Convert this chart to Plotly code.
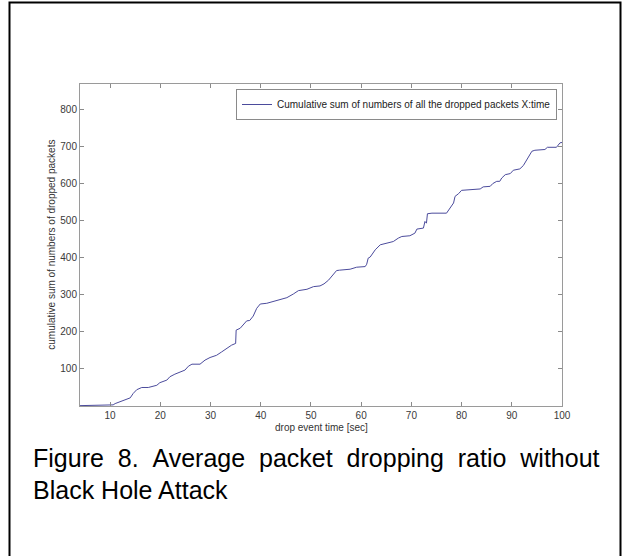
import plotly.graph_objects as go

# Data
time_sec = [4, 8, 10.6, 11, 12.6, 14, 14.6, 15.3, 16.3, 17.6, 19.3, 19.9, 21.3, 21.9, 22.9, 24.3,
            24.9, 25.6, 26.3, 27.9, 28.9, 29.9, 31.2, 32.2, 33.2, 34.2, 35.0, 35.1, 35.9, 36.5,
            37.2, 37.8, 38.5, 39.2, 39.9, 41.2, 42.5, 43.8, 45.2, 46.5, 47.5, 49.2, 50.5, 51.8,
            52.6, 53.5, 54.1, 55.1, 55.7, 57.8, 59.1, 60.8, 61.1, 61.4, 61.8, 62.8, 63.8, 65.1,
            66.4, 67.4, 68.1, 69.7, 70.7, 71.1, 72.4, 72.7, 73.0, 73.2, 74.1, 77.0, 77.7, 78.4,
            78.7, 79.4, 80.0, 81.7, 83.7, 84.3, 85.7, 86.2, 87.0, 87.6, 88.0, 88.7, 89.7, 90.3,
            91.6, 92.3, 93.3, 94.0, 94.6, 96.6, 97.1, 98.9, 99.6, 100]
dropped_cum = [1, 1, 3, 6.5, 15, 22, 34, 44, 50, 50, 56, 63, 70, 79, 86, 94,
               97, 107.6, 113, 113, 124, 131, 137, 146, 155.5, 164.5, 169, 205, 210, 219,
               230, 231, 243, 264, 275.6, 277.5, 282, 286.4, 292.7, 302.7, 311.7, 315.4, 322.5, 324.4,
               330, 340, 349.6, 365.9, 367, 369.6, 375, 376.7, 383, 399.5, 402.5, 422, 435.5, 440,
               444.4, 453.6, 458, 460, 467, 478, 480.7, 498.6, 494, 519.5, 521, 521, 535, 548.5,
               566.4, 573.7, 582.7, 584.6, 586.4, 592, 593.5, 600.8, 607, 607, 616, 625, 628, 637,
               640.6, 649.6, 670.4, 688.3, 691, 693, 699, 699, 711, 712]

x_ticks = [10, 20, 30, 40, 50, 60, 70, 80, 90, 100]
y_ticks = [100, 200, 300, 400, 500, 600, 700, 800]

series_name = "Cumulative sum of numbers of all the dropped packets X:time"
x_title = "drop event time [sec]"
y_title = "cumulative sum of numbers of dropped packets"
caption1 = "Figure\u00a0\u00a08.\u00a0\u00a0Average\u00a0\u00a0packet\u00a0\u00a0dropping\u00a0\u00a0ratio\u00a0\u00a0without"
caption2 = "Black Hole Attack"

FONT = "Liberation Sans, Arial, sans-serif"
W, H = 624, 556
L, R, T, B = 80, 62, 84, 150
pw, ph = W - L - R, H - T - B


def px_to_paper_x(px):
    return (px - L) / pw


def px_to_paper_y(py):
    return (H - B - py) / ph


fig = go.Figure()
fig.add_trace(go.Scatter(
    x=time_sec, y=dropped_cum, mode="lines", name=series_name,
    line=dict(color="#4b4b9c", width=1), showlegend=True,
))

axis_common = dict(
    showline=True, linecolor="#9a9a9a", linewidth=1, mirror="ticks",
    ticks="inside", ticklen=4, tickcolor="#8a8a8a", tickwidth=1,
    showgrid=False, zeroline=False,
    tickfont=dict(family=FONT, size=10, color="#3a3a3a"),
)

fig.update_layout(
    width=W, height=H,
    margin=dict(l=L, r=R, t=T, b=B),
    paper_bgcolor="white", plot_bgcolor="white",
    font=dict(family=FONT, size=10, color="#333333"),
    xaxis=dict(range=[4, 100], tickvals=x_ticks, **axis_common),
    yaxis=dict(range=[0, 870], tickvals=y_ticks, **axis_common),
    legend=dict(
        x=px_to_paper_x(557), y=px_to_paper_y(89), xanchor="right", yanchor="top",
        bgcolor="white", bordercolor="#8a8a8a", borderwidth=1,
        font=dict(family=FONT, size=10, color="#222222"),
        itemwidth=30, tracegroupgap=0,
    ),
)

fig.add_annotation(
    text=y_title, textangle=-90, xref="paper", yref="paper",
    x=px_to_paper_x(50.7), y=0.5, xanchor="center", yanchor="middle",
    showarrow=False, font=dict(family=FONT, size=10, color="#333333"),
)
fig.add_annotation(
    text=x_title, xref="paper", yref="paper",
    x=0.5, y=px_to_paper_y(427.7), xanchor="center", yanchor="middle",
    showarrow=False, font=dict(family=FONT, size=10, color="#333333"),
)
fig.add_annotation(
    text=caption1, xref="paper", yref="paper",
    x=px_to_paper_x(31), y=px_to_paper_y(458), xanchor="left", yanchor="middle",
    showarrow=False, font=dict(family=FONT, size=25, color="black"),
)
fig.add_annotation(
    text=caption2, xref="paper", yref="paper",
    x=px_to_paper_x(31), y=px_to_paper_y(490), xanchor="left", yanchor="middle",
    showarrow=False, font=dict(family=FONT, size=25, color="black"),
)

# outer frame (open at the bottom, as in the reference)
fig.add_shape(
    type="rect", xref="paper", yref="paper",
    x0=px_to_paper_x(9.5), x1=px_to_paper_x(620.5),
    y0=px_to_paper_y(570), y1=px_to_paper_y(2.5),
    line=dict(color="black", width=2), fillcolor="rgba(0,0,0,0)", layer="above",
)

fig.write_html("out.html")
